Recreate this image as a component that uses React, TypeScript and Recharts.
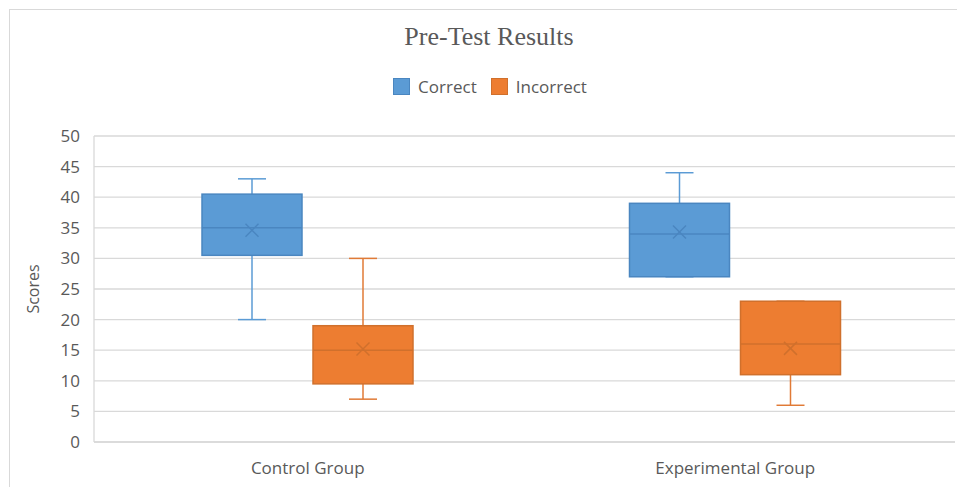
import { Bar, BarChart, CartesianGrid, XAxis, YAxis } from "recharts";

const groups = ["Control Group", "Experimental Group"];

const correctMin = [20, 27];
const correctQ1 = [30.5, 27];
const correctMedian = [35, 34];
const correctQ3 = [40.5, 39];
const correctMax = [43, 44];
const correctMean = [34.6, 34.3];

const incorrectMin = [7, 6];
const incorrectQ1 = [9.5, 11];
const incorrectMedian = [15, 16];
const incorrectQ3 = [19, 23];
const incorrectMax = [30, 23];
const incorrectMean = [15.2, 15.3];

const yTicks = [0, 5, 10, 15, 20, 25, 30, 35, 40, 45, 50];

type Stats = { min: number; q1: number; median: number; q3: number; max: number; mean: number };

const data = groups.map((group, i) => ({
  group,
  correct: {
    min: correctMin[i],
    q1: correctQ1[i],
    median: correctMedian[i],
    q3: correctQ3[i],
    max: correctMax[i],
    mean: correctMean[i],
  },
  incorrect: {
    min: incorrectMin[i],
    q1: incorrectQ1[i],
    median: incorrectMedian[i],
    q3: incorrectQ3[i],
    max: incorrectMax[i],
    mean: incorrectMean[i],
  },
}));

const series = [
  { key: "correct", name: "Correct", fill: "#5B9BD5", edge: "#4A86C0", whisker: "#5B9BD5" },
  { key: "incorrect", name: "Incorrect", fill: "#ED7D31", edge: "#D0702C", whisker: "#E07A36" },
];

const font = "'Open Sans', sans-serif";
const textColor = "#595959";

// draws one box: the bar itself spans q1..q3, whiskers are placed with the same px/unit
function boxShape(key: string, fill: string, edge: string, whisker: string) {
  return (props: any) => {
    const s: Stats = props.payload[key];
    const top = Math.min(props.y, props.y + props.height);
    const h = Math.abs(props.height);
    const k = h / (s.q3 - s.q1);
    const py = (v: number) => top + h - (v - s.q1) * k;
    const x = props.x;
    const w = props.width;
    const cx = x + w / 2;
    const cap = 14;
    const m = 6.5;
    const my = py(s.mean);
    return (
      <g>
        <line x1={cx} x2={cx} y1={py(s.max)} y2={top} stroke={whisker} strokeWidth={1.5} />
        <line x1={cx} x2={cx} y1={top + h} y2={py(s.min)} stroke={whisker} strokeWidth={1.5} />
        <line x1={cx - cap} x2={cx + cap} y1={py(s.max)} y2={py(s.max)} stroke={whisker} strokeWidth={1.5} />
        <line x1={cx - cap} x2={cx + cap} y1={py(s.min)} y2={py(s.min)} stroke={whisker} strokeWidth={1.5} />
        <rect x={x} y={top} width={w} height={h} fill={fill} stroke={edge} strokeWidth={1.5} />
        <line x1={x} x2={x + w} y1={py(s.median)} y2={py(s.median)} stroke={edge} strokeWidth={1.5} />
        <line x1={cx - m} x2={cx + m} y1={my - m} y2={my + m} stroke={edge} strokeWidth={1.5} />
        <line x1={cx - m} x2={cx + m} y1={my + m} y2={my - m} stroke={edge} strokeWidth={1.5} />
      </g>
    );
  };
}

function LegendBox() {
  return (
    <div
      style={{
        position: "absolute",
        left: 0,
        top: 75,
        width: 994,
        display: "flex",
        justifyContent: "center",
        fontFamily: font,
        fontSize: 17,
        color: textColor,
      }}
    >
      {series.map((s) => (
        <div key={s.key} style={{ display: "flex", alignItems: "center", marginRight: 14 }}>
          <span
            style={{
              display: "inline-block",
              width: 15,
              height: 15,
              background: s.fill,
              border: `1px solid ${s.edge}`,
              marginRight: 8,
            }}
          />
          {s.name}
        </div>
      ))}
    </div>
  );
}

export default function App() {
  return (
    <div style={{ position: "absolute", left: 0, top: 0, width: 957, height: 487, background: "#fff", overflow: "hidden" }}>
      <div
        style={{
          position: "absolute",
          left: 9,
          top: 9,
          width: 960,
          height: 490,
          border: "1px solid #D9D9D9",
        }}
      />
      <div
        style={{
          position: "absolute",
          left: 0,
          top: 22,
          width: 978,
          textAlign: "center",
          fontFamily: "'Liberation Serif', serif",
          fontSize: 26,
          color: textColor,
        }}
      >
        Pre-Test Results
      </div>
      <LegendBox />
      <BarChart
        width={957}
        height={487}
        data={data}
        margin={{ top: 136, right: 2, bottom: 0, left: 8 }}
        barSize={100}
        barGap={11}
        style={{ position: "absolute", left: 0, top: 0 }}
      >
        <CartesianGrid vertical={false} stroke="#D9D9D9" strokeWidth={1.3} />
        <XAxis
          dataKey="group"
          height={45}
          tickLine={false}
          axisLine={{ stroke: "#D9D9D9", strokeWidth: 1.3 }}
          tick={{ fill: textColor, fontSize: 17, fontFamily: font }}
          tickSize={10}
          tickMargin={10}
          padding={{ left: 0, right: 6 }}
        />
        <YAxis
          width={86}
          domain={[0, 50]}
          ticks={yTicks}
          interval={0}
          tickLine={false}
          axisLine={{ stroke: "#D9D9D9", strokeWidth: 1.3 }}
          tick={{ fill: textColor, fontSize: 17, fontFamily: font }}
          tickSize={6}
          tickMargin={8}
          label={{
            value: "Scores",
            angle: -90,
            position: "insideLeft",
            content: (p: any) => {
              const vb = p.viewBox;
              const cx = 33;
              const cy = vb.y + vb.height / 2;
              return (
                <text
                  x={cx}
                  y={cy}
                  transform={`rotate(-90, ${cx}, ${cy})`}
                  textAnchor="middle"
                  dominantBaseline="central"
                  fill={textColor}
                  fontSize={16}
                  fontFamily={font}
                >
                  Scores
                </text>
              );
            },
          }}
        />
        {series.map((s) => (
          <Bar
            key={s.key}
            name={s.name}
            dataKey={(d: any) => [d[s.key].q1, d[s.key].q3]}
            fill={s.fill}
            isAnimationActive={false}
            shape={boxShape(s.key, s.fill, s.edge, s.whisker)}
          />
        ))}
      </BarChart>
    </div>
  );
}
